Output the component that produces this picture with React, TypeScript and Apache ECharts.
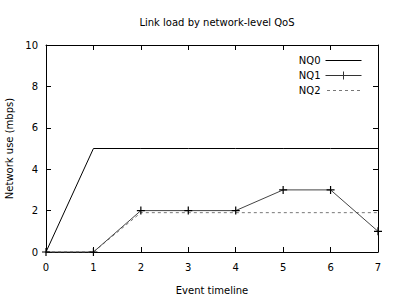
import React, { useEffect, useRef } from "react";
import * as echarts from "echarts";

const events = [0, 1, 2, 3, 4, 5, 6, 7];
const nq0 = [0, 5, 5, 5, 5, 5, 5, 5];
const nq1 = [0, 0, 2, 2, 2, 3, 3, 1];
const nq2 = [0, 0, 1.9, 1.9, 1.9, 1.9, 1.9, 1.9];

const FONT = "DejaVu Sans";
const plus = "path://M5,0L5,10M0,5L10,5";

export default function App() {
  const ref = useRef<HTMLDivElement>(null);
  useEffect(() => {
    if (!ref.current) return;
    const chart = echarts.init(ref.current, undefined, { renderer: "svg" });
    const pair = (ys: number[]) => events.map((x, i) => [x, ys[i]]);
    const axisLine = { show: true, onZero: false, lineStyle: { color: "#000", width: 1 } };
    const tick = { show: true, inside: true, length: 5, lineStyle: { color: "#000" } };
    chart.setOption({
      animation: false,
      backgroundColor: "#fff",
      textStyle: { fontFamily: FONT },
      title: {
        text: "Link load by network-level QoS",
        left: 212,
        textAlign: "center",
        top: 12,
        textStyle: { fontFamily: FONT, fontSize: 10, fontWeight: "normal", color: "#000" },
      },
      legend: {
        orient: "vertical",
        right: 36,
        top: 53,
        padding: 0,
        align: "right",
        itemWidth: 36,
        itemHeight: 10,
        itemGap: 0,
        textStyle: { fontFamily: FONT, fontSize: 10, color: "#000" },
        data: [
          {
            name: "NQ0",
            icon: "path://M0,0M0,10M0,5L36,5",
            itemStyle: { color: "none", borderColor: "#000", borderWidth: 1 },
          },
          {
            name: "NQ1",
            icon: "path://M0,0M0,10M0,5L36,5M18,1L18,9M14,5L22,5",
            itemStyle: { color: "none", borderColor: "#333", borderWidth: 1 },
          },
          {
            name: "NQ2",
            icon: "path://M0,0M0,10M0,5L3,5M6,5L9,5M12,5L15,5M18,5L21,5M24,5L27,5M30,5L33,5",
            itemStyle: { color: "none", borderColor: "#777", borderWidth: 1 },
          },
        ],
      },
      grid: { left: 46, right: 22, top: 45, bottom: 48, containLabel: false, outerBoundsMode: "none" },
      xAxis: [
        {
          type: "value",
          min: 0,
          max: 7,
          interval: 1,
          name: "Event timeline",
          nameLocation: "middle",
          nameGap: 33,
          nameTextStyle: { fontFamily: FONT, fontSize: 10, color: "#000" },
          axisLine,
          axisTick: tick,
          axisLabel: { margin: 10, fontFamily: FONT, fontSize: 10, color: "#000" },
          splitLine: { show: false },
        },
        {
          type: "value",
          position: "top",
          min: 0,
          max: 7,
          interval: 1,
          axisLine,
          axisTick: tick,
          axisLabel: { show: false },
          splitLine: { show: false },
        },
      ],
      yAxis: [
        {
          type: "value",
          min: 0,
          max: 10,
          interval: 2,
          name: "Network use (mbps)",
          nameLocation: "middle",
          nameGap: 30,
          nameTextStyle: { fontFamily: FONT, fontSize: 10, color: "#000" },
          axisLine,
          axisTick: tick,
          axisLabel: { margin: 8, fontFamily: FONT, fontSize: 10, color: "#000" },
          splitLine: { show: false },
        },
        {
          type: "value",
          position: "right",
          min: 0,
          max: 10,
          interval: 2,
          axisLine,
          axisTick: tick,
          axisLabel: { show: false },
          splitLine: { show: false },
        },
      ],
      series: [
        {
          name: "NQ0",
          type: "line",
          data: pair(nq0),
          symbol: "none",
          lineStyle: { color: "#000", width: 1 },
          itemStyle: { color: "#000" },
        },
        {
          name: "NQ2",
          type: "line",
          data: pair(nq2),
          symbol: "none",
          lineStyle: { color: "#777", width: 1, type: [3, 3] },
          itemStyle: { color: "#777" },
        },
        {
          name: "NQ1",
          type: "line",
          data: pair(nq1),
          symbol: plus,
          symbolSize: 8,
          lineStyle: { color: "#444", width: 1 },
          itemStyle: { color: "none", borderColor: "#000", borderWidth: 1.2 },
        },
      ],
    });
    return () => chart.dispose();
  }, []);
  return <div ref={ref} style={{ width: 400, height: 300, position: "absolute", left: 0, top: 0 }} />;
}
